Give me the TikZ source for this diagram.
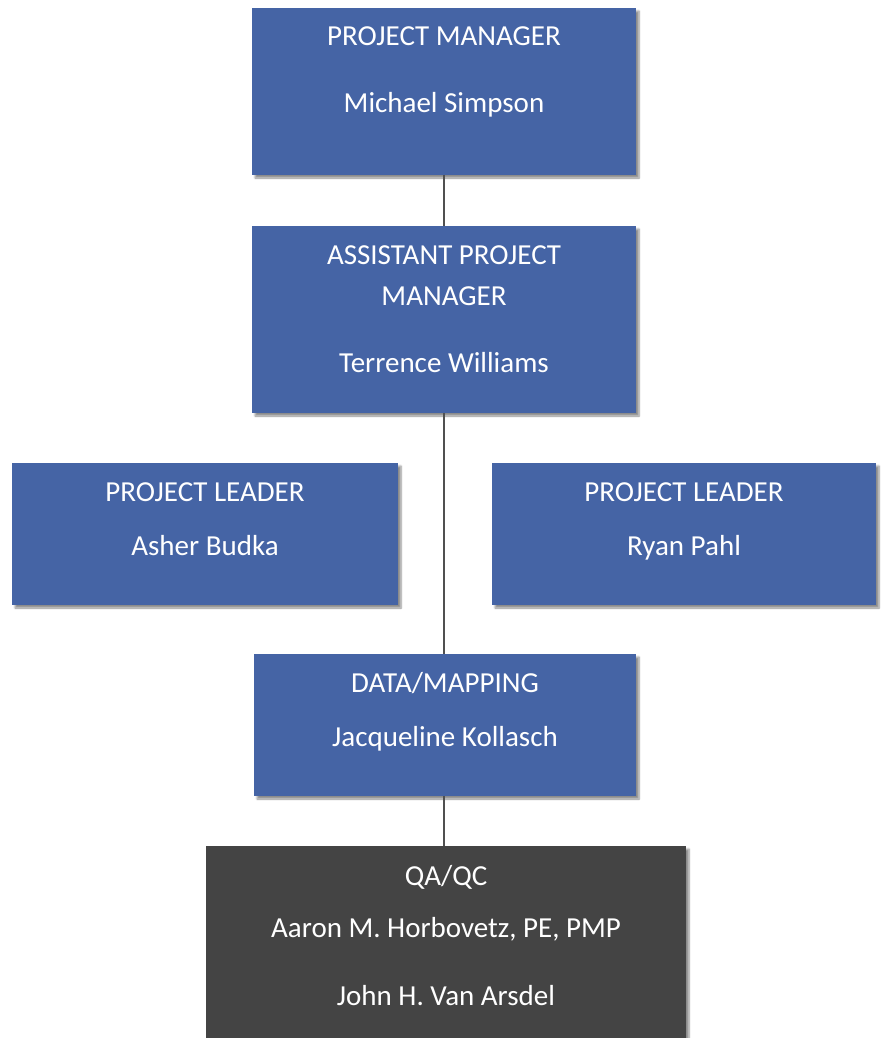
\documentclass[tikz,border=0pt]{standalone}
\usepackage{fontspec}
\setmainfont{Carlito}
\usetikzlibrary{shadows.blur}
\definecolor{boxblue}{HTML}{4564A5}
\definecolor{boxdark}{HTML}{444444}
\definecolor{linkgray}{HTML}{505050}
\tikzset{
  orgbox/.style={rectangle, inner sep=0pt, draw=none,
    blur shadow={shadow xshift=3pt, shadow yshift=-3pt, shadow blur steps=6, shadow opacity=45}},
  bluebox/.style={orgbox, fill=boxblue},
  darkbox/.style={orgbox, fill=boxdark},
  lbl/.style={text=white, font=\fontsize{29}{34}\selectfont, inner sep=0pt, anchor=base},
  link/.style={draw=linkgray, line width=2pt}
}
\begin{document}
\begin{tikzpicture}[x=1pt, y=-1pt]
\useasboundingbox (0,0) rectangle (884,1038);

% boxes
\node[bluebox, minimum width=384pt, minimum height=167pt] (pm)   at (444,91.5) {};
\node[bluebox, minimum width=384pt, minimum height=187pt] (apm)  at (444,319.5) {};
\node[bluebox, minimum width=386pt, minimum height=142pt] (pll)  at (205,534) {};
\node[bluebox, minimum width=384pt, minimum height=142pt] (plr)  at (684,534) {};
\node[bluebox, minimum width=382pt, minimum height=142pt] (data) at (445,725) {};
\node[darkbox, minimum width=480pt, minimum height=196pt] (qa)   at (446,944) {};

% connectors
\draw[link] (pm.south) -- (apm.north);
\draw[link] (apm.south) -- (apm.south |- data.north);
\draw[link] (data.south -| apm.south) -- (apm.south |- qa.north);

% labels
\node[lbl] (pmT)   at (444,46)  {PROJECT MANAGER};
\node[lbl] (pmN)   at (444,113) {Michael Simpson};
\node[lbl] (apmT1) at (444,264) {ASSISTANT PROJECT};
\node[lbl] (apmT2) at (444,305) {MANAGER};
\node[lbl] (apmN)  at (444,372) {Terrence Williams};
\node[lbl] (pllT)  at (205,501) {PROJECT LEADER};
\node[lbl] (pllN)  at (205,555) {Asher Budka};
\node[lbl] (plrT)  at (684,501) {PROJECT LEADER};
\node[lbl] (plrN)  at (684,555) {Ryan Pahl};
\node[lbl] (dataT) at (445,692) {DATA/MAPPING};
\node[lbl] (dataN) at (445,746) {Jacqueline Kollasch};
\node[lbl] (qaT)   at (446,885) {QA/QC};
\node[lbl] (qaN1)  at (446,937) {Aaron M. Horbovetz, PE, PMP};
\node[lbl] (qaN2)  at (446,1005) {John H. Van Arsdel};
\end{tikzpicture}
\end{document}
